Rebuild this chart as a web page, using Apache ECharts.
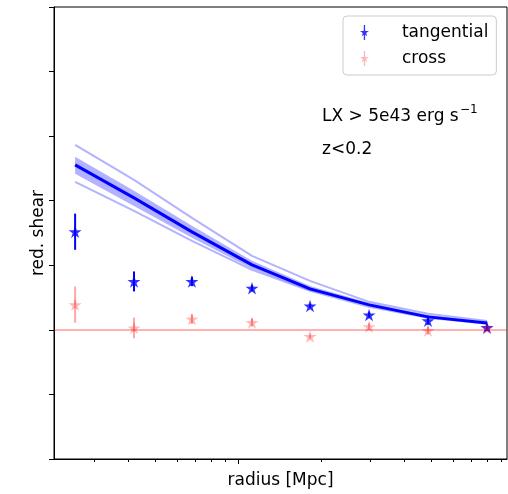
<!DOCTYPE html>
<html><head><meta charset="utf-8">
<script src="https://cdn.jsdelivr.net/npm/echarts@6/dist/echarts.min.js"></script>
<style>html,body{margin:0;padding:0;background:#fff}#c{width:508px;height:494px}</style>
</head><body><div id="c"></div>
<script>
// ---- data ----
const radius        = [0.257, 0.420, 0.681, 1.124, 1.824, 2.984, 4.880, 7.984];
const tangential    = [0.152, 0.075, 0.075, 0.0645, 0.037, 0.023, 0.014, 0.0036];
const tangentialErr = [0.028, 0.0155, 0.0073, 0.0046, 0.003, 0.004, 0.006, 0.005];
const cross         = [0.039, 0.003, 0.0166, 0.0113, -0.0104, 0.005, -0.001, 0.0026];
const crossErr      = [0.028, 0.016, 0.0075, 0.006, 0.003, 0.005, 0.006, 0.005];
const modelMain     = [0.2555, 0.2044, 0.1518, 0.1007, 0.0635, 0.0387, 0.0201, 0.0108];
const modelBandHi   = [0.268, 0.2153, 0.1611, 0.1069, 0.0681, 0.0418, 0.0232, 0.0124];
const modelBandLo   = [0.2416, 0.192, 0.1425, 0.0945, 0.0604, 0.0372, 0.0186, 0.0093];
const modelOuterHi  = [0.2865, 0.2323, 0.1735, 0.1146, 0.0759, 0.0434, 0.0248, 0.0139];
const modelOuterLo  = [0.2292, 0.1843, 0.1378, 0.0929, 0.0604, 0.0356, 0.0186, 0.0093];
const xRange        = [0.2155, 9.43];
const xMajorTicks   = [1];
const xMinorTicks   = [0.3, 0.4, 0.5, 0.6, 0.7, 0.8, 0.9, 2, 3, 4, 5, 6, 7, 8, 9];
const yRange        = [-0.2, 0.5];
const yStep         = 0.1;

const lg = v => Math.log10(v);
const pts = arr => radius.map((r, i) => [lg(r), arr[i]]);

function starPath() {
  let d = '';
  for (let k = 0; k < 10; k++) {
    const a = (-90 + k * 36) * Math.PI / 180;
    const r = k % 2 ? 0.382 : 1;
    d += (k ? 'L' : 'M') + (r * Math.cos(a)).toFixed(4) + ',' + (r * Math.sin(a)).toFixed(4);
  }
  return d + 'Z';
}
const STAR = 'path://' + starPath();
const LEG_ICON = 'path://' + starPath() + 'M-0.14,-1.6L0.14,-1.6L0.14,1.6L-0.14,1.6Z';

const BLUE = '#0000ff';
const RED = 'rgba(255,0,0,0.35)';
const LIGHTBLUE = 'rgba(0,0,255,0.3)';
const FONT = 'DejaVu Sans';

function errSeries(vals, errs, color, z) {
  return {
    type: 'custom', z: z, silent: true,
    data: radius.map((r, i) => [lg(r), vals[i], errs[i]]),
    encode: { x: 0, y: 1 },
    renderItem: function (params, api) {
      const x = api.value(0), y = api.value(1), e = api.value(2);
      const p1 = api.coord([x, y - e]), p2 = api.coord([x, y + e]);
      return { type: 'line', shape: { x1: p1[0], y1: p1[1], x2: p2[0], y2: p2[1] },
               style: { stroke: color, lineWidth: 2 } };
    }
  };
}

// x-axis log ticks (major length 5, minor length 3), placed through the axis scale
const xTickData = xMajorTicks.map(t => [lg(t), yRange[0], 5]).concat(xMinorTicks.map(t => [lg(t), yRange[0], 3]));

const chart = echarts.init(document.getElementById('c'), null, { renderer: 'canvas' });
chart.setOption({
  animation: false,
  backgroundColor: '#fff',
  textStyle: { fontFamily: FONT },
  grid: { left: 54, top: 7, width: 453, height: 452, show: true, borderColor: '#000', borderWidth: 1, backgroundColor: 'transparent' },
  xAxis: {
    type: 'value', min: lg(xRange[0]), max: lg(xRange[1]),
    name: 'radius [Mpc]', nameLocation: 'middle', nameGap: 13,
    nameTextStyle: { fontSize: 17, color: '#000', fontFamily: FONT },
    axisLine: { show: true, onZero: false, lineStyle: { color: '#000', width: 1 } },
    axisTick: { show: false },
    axisLabel: { show: false },
    splitLine: { show: false }
  },
  yAxis: {
    type: 'value', min: yRange[0], max: yRange[1], interval: yStep,
    name: 'red. shear', nameLocation: 'middle', nameGap: 7,
    nameTextStyle: { fontSize: 17, color: '#000', fontFamily: FONT },
    axisLine: { show: true, onZero: false, lineStyle: { color: '#000', width: 1 } },
    axisTick: { show: true, inside: false, length: 5, lineStyle: { color: '#000' } },
    axisLabel: { show: false },
    splitLine: { show: false }
  },
  legend: {
    orient: 'vertical', left: 343, top: 16,
    padding: [8, 8, 8, 17], itemGap: 9, itemWidth: 11, itemHeight: 15,
    backgroundColor: '#fff', borderColor: '#cccccc', borderWidth: 1, borderRadius: 4,
    textStyle: { fontSize: 17, color: '#000', fontFamily: FONT, padding: [0, 0, 0, 27] },
    data: [{ name: 'tangential', icon: LEG_ICON }, { name: 'cross', icon: LEG_ICON }]
  },
  series: [
    {
      type: 'custom', z: 10, silent: true, clip: false,
      data: xTickData,
      encode: { x: 0, y: 1 },
      renderItem: function (params, api) {
        const p = api.coord([api.value(0), api.value(1)]);
        const x = Math.round(p[0]) + 0.5, y = Math.round(p[1]);
        return { type: 'line', shape: { x1: x, y1: y, x2: x, y2: y + api.value(2) },
                 style: { stroke: '#000', lineWidth: 1 } };
      }
    },
    {
      type: 'custom', z: 1, silent: true,
      data: [[lg(radius[0]), modelBandHi[0]]],
      encode: { x: 0, y: 1 },
      renderItem: function (params, api) {
        const up = pts(modelBandHi).map(p => api.coord(p));
        const lo = pts(modelBandLo).map(p => api.coord(p)).reverse();
        return { type: 'polygon', shape: { points: up.concat(lo) }, style: { fill: LIGHTBLUE } };
      }
    },
    { type: 'line', z: 2, data: pts(modelOuterHi), showSymbol: false, symbol: 'none', silent: true,
      lineStyle: { color: LIGHTBLUE, width: 2 } },
    { type: 'line', z: 2, data: pts(modelOuterLo), showSymbol: false, symbol: 'none', silent: true,
      lineStyle: { color: LIGHTBLUE, width: 2 } },
    { type: 'line', z: 3, data: pts(modelMain), showSymbol: false, symbol: 'none', silent: true,
      lineStyle: { color: BLUE, width: 3 } },
    errSeries(tangential, tangentialErr, BLUE, 4),
    { name: 'tangential', type: 'scatter', z: 5, data: pts(tangential), symbol: STAR, symbolSize: [13, 12.4],
      itemStyle: { color: BLUE } },
    errSeries(cross, crossErr, RED, 6),
    { name: 'cross', type: 'scatter', z: 7, data: pts(cross), symbol: STAR, symbolSize: [13, 12.4],
      itemStyle: { color: RED },
      markLine: { silent: true, symbol: 'none', label: { show: false },
        lineStyle: { color: 'rgba(255,0,0,0.3)', width: 2, type: 'solid' },
        data: [{ yAxis: 0 }] } }
  ],
  graphic: [
    { type: 'text', left: 322, top: 108, silent: true,
      style: { text: 'LX > 5e43 erg s', font: '17px "DejaVu Sans"', fill: '#000' } },
    { type: 'text', left: 460, top: 104, silent: true,
      style: { text: '\u22121', font: '12px "DejaVu Sans"', fill: '#000' } },
    { type: 'text', left: 322, top: 141, silent: true,
      style: { text: 'z<0.2', font: '17px "DejaVu Sans"', fill: '#000' } }
  ]
});
</script>
</body></html>
